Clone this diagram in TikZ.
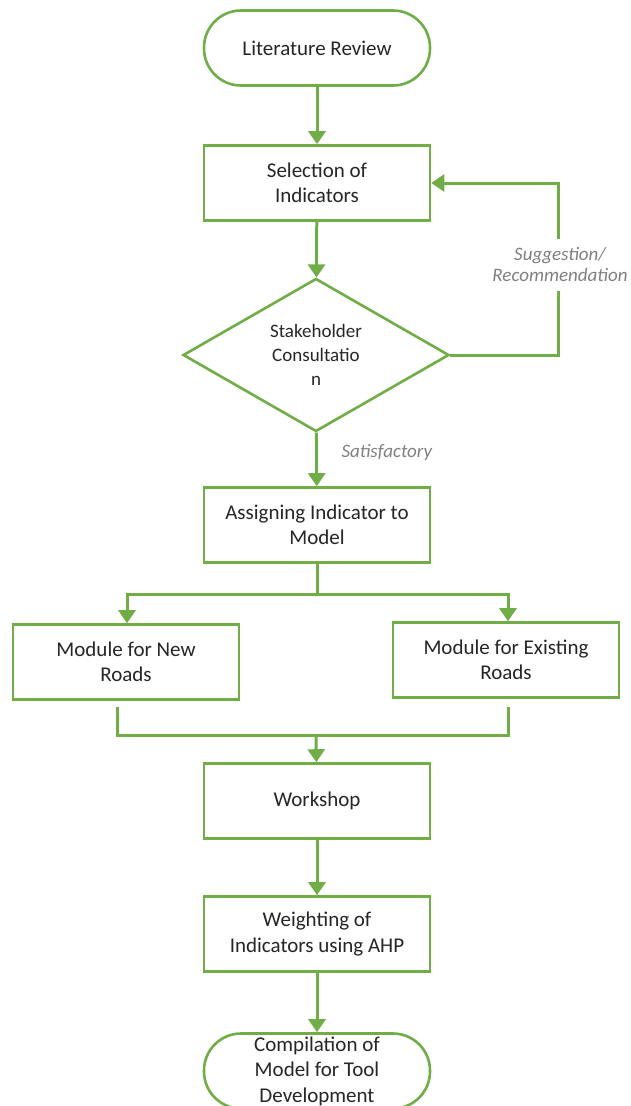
\documentclass[tikz,border=0pt]{standalone}
\usepackage{fontspec}
\setmainfont{Carlito}
\usepackage{tikz}
\usetikzlibrary{arrows.meta,positioning,shapes.geometric}
\definecolor{flowgreen}{RGB}{112,173,71}
\definecolor{labelgray}{RGB}{128,128,128}
\begin{document}
\begin{tikzpicture}[x=1pt,y=-1pt,>={Triangle[length=13pt,width=17pt]},
 box/.style={draw=flowgreen,line width=2.6pt,fill=white,align=center,inner sep=0pt,
  minimum width=226pt,minimum height=75pt,text=black!85,font=\fontsize{21}{25.5}\selectfont},
 term/.style={box,rounded corners=37pt},
 choice/.style={draw=flowgreen,line width=2.6pt,diamond,align=center,inner sep=0pt,
  minimum width=266pt,minimum height=150pt,text=black!85,font=\fontsize{19}{24}\selectfont},
 flow/.style={draw=flowgreen,line width=3pt,->},
 link/.style={draw=flowgreen,line width=3pt},
 note/.style={text=labelgray,align=center,font=\fontsize{19}{21}\selectfont\itshape}]
\useasboundingbox (0,0) rectangle (630,1106);
\node[term] (lit) at (317,48) {Literature Review};
\node[box] (sel) at (317,183) {Selection of\\Indicators};
\node[choice] (stake) at (316,355) {Stakeholder\\Consultatio\\n};
\node[box] (assign) at (317,525) {Assigning Indicator to\\Model};
\node[box] (newmod) at (126,662) {Module for New\\Roads};
\node[box] (oldmod) at (506,660) {Module for Existing\\Roads};
\node[box] (work) at (317,801) {Workshop};
\node[box] (ahp) at (317,934) {Weighting of\\Indicators using AHP};
\node[term] (comp) at (317,1071) {Compilation of\\Model for Tool\\Development};
\coordinate (fb) at (558,355);
\coordinate (split) at (317,594);
\coordinate (newout) at (117,707);
\coordinate (oldout) at (508,707);
\coordinate (merge) at (316,735);
\draw[flow] (lit) -- (sel);
\draw[flow] (sel) -- (stake);
\draw[flow] (stake.east) -- (fb) |- (sel.east);
\node[note,fill=white,inner xsep=2pt,inner ysep=9pt] (sugg) at (560,265) {Suggestion/\\Recommendation};
\draw[flow] (stake) -- (assign);
\node[note,anchor=west] (sat) at (338,452) {Satisfactory};
\draw[link] (assign) -- (split);
\draw[flow] (split) -| ([xshift=1pt]newmod.north);
\draw[flow] (split) -| ([xshift=2pt]oldmod.north);
\draw[link] (newout) |- (merge);
\draw[link] (oldout) |- (merge);
\draw[flow] (merge) -- (work);
\draw[flow] (work) -- (ahp);
\draw[flow] (ahp) -- (comp);
\end{tikzpicture}
\end{document}
